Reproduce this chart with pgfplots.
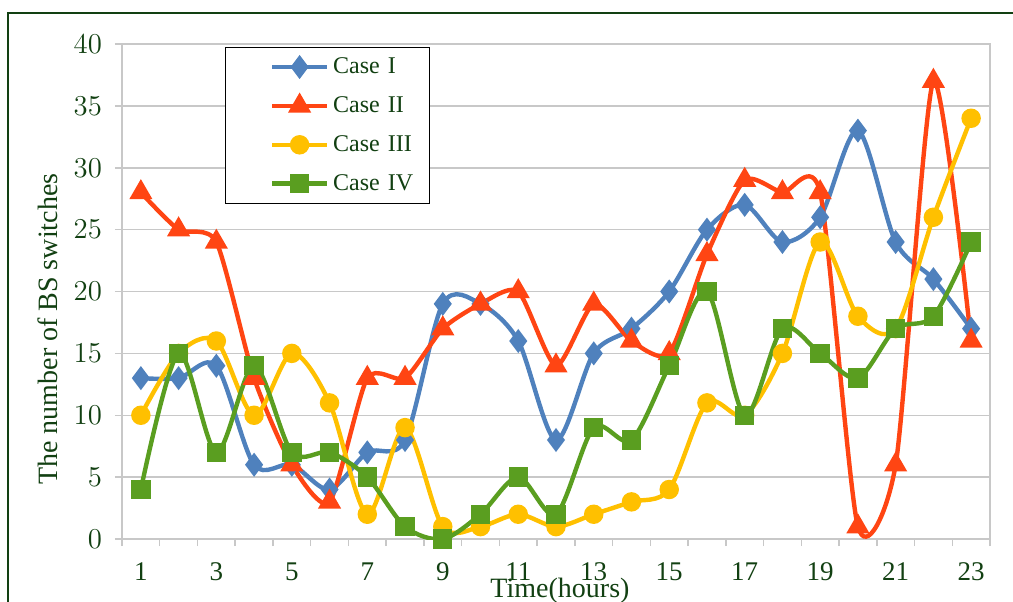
\documentclass[border=0pt]{standalone}
\usepackage{fontspec}
\setmainfont{Liberation Serif}
\usepackage{pgfplots}
\pgfplotsset{compat=1.18}
\definecolor{cblue}{HTML}{4F81BD}
\definecolor{cred}{HTML}{FF4513}
\definecolor{cyellow}{HTML}{FFC000}
\definecolor{cgreen}{HTML}{5A9E20}
\definecolor{dgreen}{RGB}{18,64,18}
\definecolor{gridgray}{HTML}{C8C8C8}
\begin{document}
\begin{tikzpicture}
\useasboundingbox (-61pt,-31pt) rectangle (445.5pt,269.5pt);
\draw[dgreen, line width=1pt] (-57pt,-40pt) -- (-57pt,263pt) -- (460pt,263pt);
\begin{axis}[
  at={(0,0)}, anchor=south west,
  scale only axis, width=434pt, height=247.5pt,
  xmin=0.5, xmax=23.5, ymin=0, ymax=40,
  xtick={0.5,1.5,...,23.5}, xticklabels={},
  extra x ticks={1,3,...,23},
  extra x tick labels={1,3,5,7,9,11,13,15,17,19,21,23},
  extra x tick style={major tick length=0pt, grid=none},
  ytick={0,5,...,40},
  tick align=outside, major tick length=3.5pt,
  tick style={gridgray, line width=0.75pt},
  xtick pos=bottom, ytick pos=left,
  ymajorgrids, grid style={gridgray, line width=0.75pt},
  axis line style={gridgray, line width=0.75pt},
  tick label style={font=\fontsize{13.5}{15}\selectfont, text=dgreen},
  xticklabel style={yshift=-8.5pt},
  yticklabel style={xshift=-3pt},
  every axis y label/.style={at={(axis description cs:-0.0853,0.424)}, rotate=90, anchor=center, font=\fontsize{14}{16}\selectfont, text=dgreen},
  every axis x label/.style={at={(axis description cs:0.5046,-0.105)}, anchor=center, font=\fontsize{14}{16}\selectfont, text=dgreen},
  ylabel={The number of BS switches},
  xlabel={Time(hours)},
  legend style={at={(rel axis cs:0.1187,0.994)}, anchor=north west, draw=black, line width=0.6pt,
    font=\fontsize{12}{14}\selectfont, text=dgreen, inner xsep=2pt, inner ysep=3pt, row sep=6pt,
    nodes={text width=44pt}},
  legend cell align=left,
  legend image code/.code={\path[draw=none,fill=none] (-0.75cm,0cm) -- (0cm,0cm);
    \draw[mark repeat=2,mark phase=2] plot coordinates {(0cm,0cm) (0.48cm,0cm) (0.96cm,0cm)};},
  every axis plot/.append style={line width=2.2pt, smooth},
]
\addplot[cblue, mark=diamond*, mark size=4.2pt, mark options={solid}] coordinates {
(1,13)(2,13)(3,14)(4,6)(5,6)(6,4)(7,7)(8,8)(9,19)(10,19)(11,16)(12,8)(13,15)(14,17)(15,20)(16,25)(17,27)(18,24)(19,26)(20,33)(21,24)(22,21)(23,17)};
\addlegendentry{Case I}
\addplot[cred, mark=triangle*, mark size=4.5pt, mark options={solid}, tension=0.4] coordinates {
(1,28)(2,25)(3,24)(4,13)(5,6)(6,3)(7,13)(8,13)(9,17)(10,19)(11,20)(12,14)(13,19)(14,16)(15,15)(16,23)(17,29)(18,28)(19,28)(20,1)(21,6)(22,37)(23,16)};
\addlegendentry{Case II}
\addplot[cyellow, mark=*, mark size=3.75pt, mark options={solid}] coordinates {
(1,10)(2,15)(3,16)(4,10)(5,15)(6,11)(7,2)(8,9)(9,1)(10,1)(11,2)(12,1)(13,2)(14,3)(15,4)(16,11)(17,10)(18,15)(19,24)(20,18)(21,17)(22,26)(23,34)};
\addlegendentry{Case III}
\addplot[cgreen, mark=square*, mark size=3.75pt, mark options={solid}] coordinates {
(1,4)(2,15)(3,7)(4,14)(5,7)(6,7)(7,5)(8,1)(9,0)(10,2)(11,5)(12,2)(13,9)(14,8)(15,14)(16,20)(17,10)(18,17)(19,15)(20,13)(21,17)(22,18)(23,24)};
\addlegendentry{Case IV}
\end{axis}
\end{tikzpicture}
\end{document}
